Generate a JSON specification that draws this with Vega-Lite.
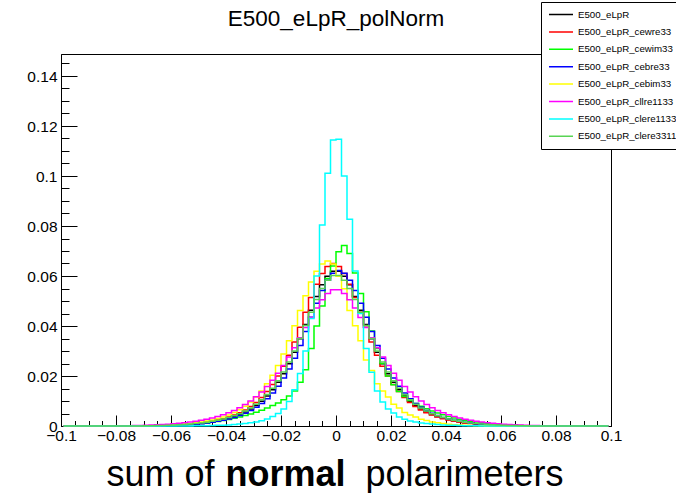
{
  "$schema": "https://vega.github.io/schema/vega-lite/v6.json",
  "width": 550,
  "height": 372,
  "autosize": {"type": "none"},
  "padding": {"left": 61, "top": 54, "right": 65, "bottom": 67},
  "background": "white",
  "title": {
    "text": "E500_eLpR_polNorm",
    "font": "Liberation Sans",
    "fontSize": 22.5,
    "fontWeight": "normal",
    "color": "black",
    "anchor": "middle",
    "frame": "group",
    "baseline": "alphabetic",
    "offset": 0,
    "dy": 47
  },
  "config": {
    "view": {"stroke": "black", "strokeWidth": 1},
    "font": "Liberation Sans"
  },
  "data": {
    "values": [
      {"x": -0.099, "eLpR": 0, "cewre33": 0, "cewim33": 0, "cebre33": 0, "cebim33": 0, "cllre1133": 0, "clere1133": 0, "clere3311": 0},
      {"x": -0.097, "eLpR": 0, "cewre33": 0, "cewim33": 0, "cebre33": 0, "cebim33": 0, "cllre1133": 0, "clere1133": 0, "clere3311": 0},
      {"x": -0.095, "eLpR": 0, "cewre33": 0, "cewim33": 0, "cebre33": 0, "cebim33": 0, "cllre1133": 0, "clere1133": 0, "clere3311": 0},
      {"x": -0.093, "eLpR": 0, "cewre33": 0, "cewim33": 0, "cebre33": 0, "cebim33": 0, "cllre1133": 0, "clere1133": 0, "clere3311": 0},
      {"x": -0.091, "eLpR": 0, "cewre33": 0, "cewim33": 0, "cebre33": 0, "cebim33": 0, "cllre1133": 0, "clere1133": 0, "clere3311": 0},
      {"x": -0.089, "eLpR": 0, "cewre33": 0, "cewim33": 0, "cebre33": 0, "cebim33": 0, "cllre1133": 0, "clere1133": 0, "clere3311": 0},
      {"x": -0.087, "eLpR": 0, "cewre33": 0, "cewim33": 0, "cebre33": 0, "cebim33": 0, "cllre1133": 0, "clere1133": 0, "clere3311": 0},
      {"x": -0.085, "eLpR": 0, "cewre33": 0, "cewim33": 0, "cebre33": 0, "cebim33": 0, "cllre1133": 0, "clere1133": 0, "clere3311": 0},
      {"x": -0.083, "eLpR": 0, "cewre33": 0, "cewim33": 0, "cebre33": 0, "cebim33": 0, "cllre1133": 0, "clere1133": 0, "clere3311": 0},
      {"x": -0.081, "eLpR": 0, "cewre33": 0, "cewim33": 0, "cebre33": 0, "cebim33": 0, "cllre1133": 0, "clere1133": 0, "clere3311": 0},
      {"x": -0.079, "eLpR": 0, "cewre33": 0, "cewim33": 0, "cebre33": 0, "cebim33": 0, "cllre1133": 0, "clere1133": 0, "clere3311": 0},
      {"x": -0.077, "eLpR": 0, "cewre33": 0, "cewim33": 0, "cebre33": 0, "cebim33": 0, "cllre1133": 0.0001, "clere1133": 0, "clere3311": 0},
      {"x": -0.075, "eLpR": 0, "cewre33": 0, "cewim33": 0, "cebre33": 0, "cebim33": 0, "cllre1133": 0.00012, "clere1133": 0, "clere3311": 0},
      {"x": -0.073, "eLpR": 0, "cewre33": 0, "cewim33": 0, "cebre33": 0, "cebim33": 0, "cllre1133": 0.00016, "clere1133": 0, "clere3311": 0},
      {"x": -0.071, "eLpR": 0, "cewre33": 0, "cewim33": 0, "cebre33": 0, "cebim33": 0, "cllre1133": 0.00022, "clere1133": 0, "clere3311": 0},
      {"x": -0.069, "eLpR": 0, "cewre33": 0, "cewim33": 0, "cebre33": 0, "cebim33": 0.0001, "cllre1133": 0.0003, "clere1133": 0, "clere3311": 0.0001},
      {"x": -0.067, "eLpR": 0, "cewre33": 0.0001, "cewim33": 0, "cebre33": 0, "cebim33": 0.00015, "cllre1133": 0.0004, "clere1133": 0, "clere3311": 0.00012},
      {"x": -0.065, "eLpR": 0.00012, "cewre33": 0.00014, "cewim33": 0.0001, "cebre33": 0.0001, "cebim33": 0.0002, "cllre1133": 0.0005, "clere1133": 0, "clere3311": 0.00017},
      {"x": -0.063, "eLpR": 0.00016, "cewre33": 0.0002, "cewim33": 0.00012, "cebre33": 0.00014, "cebim33": 0.00027, "cllre1133": 0.0006, "clere1133": 0, "clere3311": 0.00023},
      {"x": -0.061, "eLpR": 0.0002, "cewre33": 0.00027, "cewim33": 0.00018, "cebre33": 0.00019, "cebim33": 0.00036, "cllre1133": 0.0007, "clere1133": 0, "clere3311": 0.0003},
      {"x": -0.059, "eLpR": 0.0003, "cewre33": 0.00035, "cewim33": 0.00025, "cebre33": 0.00026, "cebim33": 0.00047, "cllre1133": 0.0009, "clere1133": 0, "clere3311": 0.0004},
      {"x": -0.057, "eLpR": 0.0004, "cewre33": 0.00046, "cewim33": 0.00035, "cebre33": 0.00034, "cebim33": 0.0006, "cllre1133": 0.0011, "clere1133": 0, "clere3311": 0.0005},
      {"x": -0.055, "eLpR": 0.0005, "cewre33": 0.0006, "cewim33": 0.00045, "cebre33": 0.00044, "cebim33": 0.0008, "cllre1133": 0.0013, "clere1133": 0, "clere3311": 0.00065},
      {"x": -0.053, "eLpR": 0.00065, "cewre33": 0.0008, "cewim33": 0.0006, "cebre33": 0.0006, "cebim33": 0.001, "cllre1133": 0.0016, "clere1133": 0, "clere3311": 0.0008},
      {"x": -0.051, "eLpR": 0.0008, "cewre33": 0.001, "cewim33": 0.0008, "cebre33": 0.0007, "cebim33": 0.0013, "cllre1133": 0.0019, "clere1133": 0.0001, "clere3311": 0.001},
      {"x": -0.049, "eLpR": 0.0011, "cewre33": 0.0012, "cewim33": 0.001, "cebre33": 0.0009, "cebim33": 0.0016, "cllre1133": 0.0023, "clere1133": 0.0001, "clere3311": 0.0012},
      {"x": -0.047, "eLpR": 0.0013, "cewre33": 0.0016, "cewim33": 0.0012, "cebre33": 0.0012, "cebim33": 0.002, "cllre1133": 0.0027, "clere1133": 0.00015, "clere3311": 0.0015},
      {"x": -0.045, "eLpR": 0.0017, "cewre33": 0.002, "cewim33": 0.0015, "cebre33": 0.0015, "cebim33": 0.0024, "cllre1133": 0.0032, "clere1133": 0.0002, "clere3311": 0.0019},
      {"x": -0.043, "eLpR": 0.0021, "cewre33": 0.0024, "cewim33": 0.0018, "cebre33": 0.0019, "cebim33": 0.003, "cllre1133": 0.0038, "clere1133": 0.00027, "clere3311": 0.0023},
      {"x": -0.041, "eLpR": 0.0026, "cewre33": 0.0029, "cewim33": 0.0022, "cebre33": 0.0023, "cebim33": 0.0036, "cllre1133": 0.0045, "clere1133": 0.00035, "clere3311": 0.0028},
      {"x": -0.039, "eLpR": 0.0031, "cewre33": 0.0036, "cewim33": 0.0026, "cebre33": 0.0028, "cebim33": 0.0044, "cllre1133": 0.0053, "clere1133": 0.00045, "clere3311": 0.0034},
      {"x": -0.037, "eLpR": 0.0038, "cewre33": 0.0044, "cewim33": 0.0031, "cebre33": 0.0034, "cebim33": 0.0054, "cllre1133": 0.0062, "clere1133": 0.0006, "clere3311": 0.0041},
      {"x": -0.035, "eLpR": 0.0046, "cewre33": 0.0053, "cewim33": 0.0036, "cebre33": 0.0042, "cebim33": 0.0065, "cllre1133": 0.0073, "clere1133": 0.0008, "clere3311": 0.0049},
      {"x": -0.033, "eLpR": 0.0056, "cewre33": 0.0064, "cewim33": 0.0042, "cebre33": 0.0051, "cebim33": 0.0079, "cllre1133": 0.0086, "clere1133": 0.001, "clere3311": 0.006},
      {"x": -0.031, "eLpR": 0.0068, "cewre33": 0.0078, "cewim33": 0.0048, "cebre33": 0.0062, "cebim33": 0.0096, "cllre1133": 0.01, "clere1133": 0.0013, "clere3311": 0.0072},
      {"x": -0.029, "eLpR": 0.0082, "cewre33": 0.0094, "cewim33": 0.0055, "cebre33": 0.0075, "cebim33": 0.0116, "cllre1133": 0.0117, "clere1133": 0.0016, "clere3311": 0.0087},
      {"x": -0.027, "eLpR": 0.0099, "cewre33": 0.0114, "cewim33": 0.0063, "cebre33": 0.009, "cebim33": 0.014, "cllre1133": 0.0136, "clere1133": 0.0021, "clere3311": 0.0105},
      {"x": -0.025, "eLpR": 0.012, "cewre33": 0.0138, "cewim33": 0.0072, "cebre33": 0.0109, "cebim33": 0.0169, "cllre1133": 0.0158, "clere1133": 0.0028, "clere3311": 0.0126},
      {"x": -0.023, "eLpR": 0.0145, "cewre33": 0.0166, "cewim33": 0.0082, "cebre33": 0.0132, "cebim33": 0.0203, "cllre1133": 0.0183, "clere1133": 0.0038, "clere3311": 0.0151},
      {"x": -0.021, "eLpR": 0.0175, "cewre33": 0.02, "cewim33": 0.0092, "cebre33": 0.0159, "cebim33": 0.0242, "cllre1133": 0.0211, "clere1133": 0.005, "clere3311": 0.0181},
      {"x": -0.019, "eLpR": 0.0209, "cewre33": 0.0239, "cewim33": 0.0105, "cebre33": 0.0192, "cebim33": 0.0288, "cllre1133": 0.0242, "clere1133": 0.0068, "clere3311": 0.0216},
      {"x": -0.017, "eLpR": 0.0249, "cewre33": 0.0283, "cewim33": 0.012, "cebre33": 0.0228, "cebim33": 0.0341, "cllre1133": 0.0276, "clere1133": 0.0098, "clere3311": 0.0256},
      {"x": -0.015, "eLpR": 0.0295, "cewre33": 0.0336, "cewim33": 0.014, "cebre33": 0.0271, "cebim33": 0.0401, "cllre1133": 0.0313, "clere1133": 0.0145, "clere3311": 0.03},
      {"x": -0.013, "eLpR": 0.0349, "cewre33": 0.0395, "cewim33": 0.0175, "cebre33": 0.0322, "cebim33": 0.0462, "cllre1133": 0.0353, "clere1133": 0.021, "clere3311": 0.035},
      {"x": -0.011, "eLpR": 0.0406, "cewre33": 0.0455, "cewim33": 0.0225, "cebre33": 0.0378, "cebim33": 0.0521, "cllre1133": 0.0394, "clere1133": 0.03, "clere3311": 0.0402},
      {"x": -0.009, "eLpR": 0.0463, "cewre33": 0.0514, "cewim33": 0.031, "cebre33": 0.0435, "cebim33": 0.0576, "cllre1133": 0.0434, "clere1133": 0.043, "clere3311": 0.0455},
      {"x": -0.007, "eLpR": 0.0518, "cewre33": 0.0567, "cewim33": 0.04, "cebre33": 0.0491, "cebim33": 0.0619, "cllre1133": 0.0472, "clere1133": 0.06, "clere3311": 0.0506},
      {"x": -0.005, "eLpR": 0.0565, "cewre33": 0.061, "cewim33": 0.048, "cebre33": 0.0542, "cebim33": 0.0648, "cllre1133": 0.0505, "clere1133": 0.0804, "clere3311": 0.055},
      {"x": -0.003, "eLpR": 0.0599, "cewre33": 0.0638, "cewim33": 0.059, "cebre33": 0.0583, "cebim33": 0.066, "cllre1133": 0.053, "clere1133": 0.1011, "clere3311": 0.0583},
      {"x": -0.001, "eLpR": 0.0619, "cewre33": 0.065, "cewim33": 0.064, "cebre33": 0.0611, "cebim33": 0.0648, "cllre1133": 0.0545, "clere1133": 0.1144, "clere3311": 0.0602},
      {"x": 0.001, "eLpR": 0.0619, "cewre33": 0.0638, "cewim33": 0.0697, "cebre33": 0.0622, "cebim33": 0.0599, "cllre1133": 0.0545, "clere1133": 0.1147, "clere3311": 0.0602},
      {"x": 0.003, "eLpR": 0.0599, "cewre33": 0.061, "cewim33": 0.0722, "cebre33": 0.0611, "cebim33": 0.0549, "cllre1133": 0.053, "clere1133": 0.1, "clere3311": 0.0583},
      {"x": 0.005, "eLpR": 0.0565, "cewre33": 0.0567, "cewim33": 0.069, "cebre33": 0.0583, "cebim33": 0.0462, "cllre1133": 0.0505, "clere1133": 0.0827, "clere3311": 0.055},
      {"x": 0.007, "eLpR": 0.0518, "cewre33": 0.0514, "cewim33": 0.0612, "cebre33": 0.0542, "cebim33": 0.0401, "cllre1133": 0.0472, "clere1133": 0.062, "clere3311": 0.0506},
      {"x": 0.009, "eLpR": 0.0463, "cewre33": 0.0455, "cewim33": 0.053, "cebre33": 0.0491, "cebim33": 0.0341, "cllre1133": 0.0434, "clere1133": 0.045, "clere3311": 0.0455},
      {"x": 0.011, "eLpR": 0.0406, "cewre33": 0.0395, "cewim33": 0.0457, "cebre33": 0.0435, "cebim33": 0.0264, "cllre1133": 0.0394, "clere1133": 0.031, "clere3311": 0.0402},
      {"x": 0.013, "eLpR": 0.0349, "cewre33": 0.0336, "cewim33": 0.038, "cebre33": 0.0378, "cebim33": 0.0222, "cllre1133": 0.0353, "clere1133": 0.0215, "clere3311": 0.035},
      {"x": 0.015, "eLpR": 0.0295, "cewre33": 0.0283, "cewim33": 0.031, "cebre33": 0.0322, "cebim33": 0.0169, "cllre1133": 0.0313, "clere1133": 0.014, "clere3311": 0.03},
      {"x": 0.017, "eLpR": 0.0249, "cewre33": 0.0239, "cewim33": 0.025, "cebre33": 0.0271, "cebim33": 0.014, "cllre1133": 0.0276, "clere1133": 0.0096, "clere3311": 0.0256},
      {"x": 0.019, "eLpR": 0.0209, "cewre33": 0.02, "cewim33": 0.02, "cebre33": 0.0228, "cebim33": 0.0116, "cllre1133": 0.0242, "clere1133": 0.0068, "clere3311": 0.0216},
      {"x": 0.021, "eLpR": 0.0175, "cewre33": 0.0166, "cewim33": 0.0165, "cebre33": 0.0192, "cebim33": 0.0087, "cllre1133": 0.0211, "clere1133": 0.0052, "clere3311": 0.0181},
      {"x": 0.023, "eLpR": 0.0145, "cewre33": 0.0138, "cewim33": 0.0138, "cebre33": 0.0159, "cebim33": 0.0072, "cllre1133": 0.0183, "clere1133": 0.0036, "clere3311": 0.0151},
      {"x": 0.025, "eLpR": 0.012, "cewre33": 0.0114, "cewim33": 0.0118, "cebre33": 0.0132, "cebim33": 0.0054, "cllre1133": 0.0158, "clere1133": 0.0027, "clere3311": 0.0126},
      {"x": 0.027, "eLpR": 0.0099, "cewre33": 0.0094, "cewim33": 0.0102, "cebre33": 0.0109, "cebim33": 0.0044, "cllre1133": 0.0136, "clere1133": 0.002, "clere3311": 0.0105},
      {"x": 0.029, "eLpR": 0.0082, "cewre33": 0.0078, "cewim33": 0.009, "cebre33": 0.009, "cebim33": 0.0036, "cllre1133": 0.0117, "clere1133": 0.0016, "clere3311": 0.0087},
      {"x": 0.031, "eLpR": 0.0068, "cewre33": 0.0064, "cewim33": 0.0079, "cebre33": 0.0075, "cebim33": 0.0027, "cllre1133": 0.01, "clere1133": 0.0012, "clere3311": 0.0072},
      {"x": 0.033, "eLpR": 0.0056, "cewre33": 0.0053, "cewim33": 0.0069, "cebre33": 0.0062, "cebim33": 0.0022, "cllre1133": 0.0086, "clere1133": 0.001, "clere3311": 0.006},
      {"x": 0.035, "eLpR": 0.0046, "cewre33": 0.0044, "cewim33": 0.006, "cebre33": 0.0051, "cebim33": 0.0016, "cllre1133": 0.0073, "clere1133": 0.0008, "clere3311": 0.0049},
      {"x": 0.037, "eLpR": 0.0038, "cewre33": 0.0036, "cewim33": 0.0052, "cebre33": 0.0042, "cebim33": 0.0013, "cllre1133": 0.0062, "clere1133": 0.0006, "clere3311": 0.0041},
      {"x": 0.039, "eLpR": 0.0031, "cewre33": 0.0029, "cewim33": 0.0045, "cebre33": 0.0034, "cebim33": 0.001, "cllre1133": 0.0053, "clere1133": 0.00045, "clere3311": 0.0034},
      {"x": 0.041, "eLpR": 0.0026, "cewre33": 0.0024, "cewim33": 0.0038, "cebre33": 0.0028, "cebim33": 0.0007, "cllre1133": 0.0045, "clere1133": 0.00035, "clere3311": 0.0028},
      {"x": 0.043, "eLpR": 0.0021, "cewre33": 0.002, "cewim33": 0.0032, "cebre33": 0.0023, "cebim33": 0.0005, "cllre1133": 0.0038, "clere1133": 0.00027, "clere3311": 0.0023},
      {"x": 0.045, "eLpR": 0.0017, "cewre33": 0.0016, "cewim33": 0.0027, "cebre33": 0.0019, "cebim33": 0.00036, "cllre1133": 0.0032, "clere1133": 0.0002, "clere3311": 0.0019},
      {"x": 0.047, "eLpR": 0.0013, "cewre33": 0.0012, "cewim33": 0.0023, "cebre33": 0.0015, "cebim33": 0.00027, "cllre1133": 0.0027, "clere1133": 0.00015, "clere3311": 0.0015},
      {"x": 0.049, "eLpR": 0.0011, "cewre33": 0.001, "cewim33": 0.0019, "cebre33": 0.0012, "cebim33": 0.0002, "cllre1133": 0.0023, "clere1133": 0.0001, "clere3311": 0.0012},
      {"x": 0.051, "eLpR": 0.0008, "cewre33": 0.0008, "cewim33": 0.0016, "cebre33": 0.0009, "cebim33": 0.00014, "cllre1133": 0.0019, "clere1133": 0.0001, "clere3311": 0.001},
      {"x": 0.053, "eLpR": 0.00065, "cewre33": 0.0006, "cewim33": 0.0013, "cebre33": 0.0007, "cebim33": 0.0001, "cllre1133": 0.0016, "clere1133": 0, "clere3311": 0.0008},
      {"x": 0.055, "eLpR": 0.0005, "cewre33": 0.00046, "cewim33": 0.001, "cebre33": 0.0006, "cebim33": 0, "cllre1133": 0.0013, "clere1133": 0, "clere3311": 0.00065},
      {"x": 0.057, "eLpR": 0.0004, "cewre33": 0.00035, "cewim33": 0.0008, "cebre33": 0.00044, "cebim33": 0, "cllre1133": 0.0011, "clere1133": 0, "clere3311": 0.0005},
      {"x": 0.059, "eLpR": 0.0003, "cewre33": 0.00027, "cewim33": 0.0006, "cebre33": 0.00034, "cebim33": 0, "cllre1133": 0.0009, "clere1133": 0, "clere3311": 0.0004},
      {"x": 0.061, "eLpR": 0.0002, "cewre33": 0.0002, "cewim33": 0.00045, "cebre33": 0.00026, "cebim33": 0, "cllre1133": 0.0007, "clere1133": 0, "clere3311": 0.0003},
      {"x": 0.063, "eLpR": 0.00016, "cewre33": 0.00014, "cewim33": 0.00035, "cebre33": 0.00019, "cebim33": 0, "cllre1133": 0.0006, "clere1133": 0, "clere3311": 0.00023},
      {"x": 0.065, "eLpR": 0.00012, "cewre33": 0.0001, "cewim33": 0.00025, "cebre33": 0.00014, "cebim33": 0, "cllre1133": 0.0005, "clere1133": 0, "clere3311": 0.00017},
      {"x": 0.067, "eLpR": 0, "cewre33": 0, "cewim33": 0.00018, "cebre33": 0.0001, "cebim33": 0, "cllre1133": 0.0004, "clere1133": 0, "clere3311": 0.00012},
      {"x": 0.069, "eLpR": 0, "cewre33": 0, "cewim33": 0.00012, "cebre33": 0, "cebim33": 0, "cllre1133": 0.0003, "clere1133": 0, "clere3311": 0.0001},
      {"x": 0.071, "eLpR": 0, "cewre33": 0, "cewim33": 0.0001, "cebre33": 0, "cebim33": 0, "cllre1133": 0.00022, "clere1133": 0, "clere3311": 0},
      {"x": 0.073, "eLpR": 0, "cewre33": 0, "cewim33": 0, "cebre33": 0, "cebim33": 0, "cllre1133": 0.00016, "clere1133": 0, "clere3311": 0},
      {"x": 0.075, "eLpR": 0, "cewre33": 0, "cewim33": 0, "cebre33": 0, "cebim33": 0, "cllre1133": 0.00012, "clere1133": 0, "clere3311": 0},
      {"x": 0.077, "eLpR": 0, "cewre33": 0, "cewim33": 0, "cebre33": 0, "cebim33": 0, "cllre1133": 0.0001, "clere1133": 0, "clere3311": 0},
      {"x": 0.079, "eLpR": 0, "cewre33": 0, "cewim33": 0, "cebre33": 0, "cebim33": 0, "cllre1133": 0, "clere1133": 0, "clere3311": 0},
      {"x": 0.081, "eLpR": 0, "cewre33": 0, "cewim33": 0, "cebre33": 0, "cebim33": 0, "cllre1133": 0, "clere1133": 0, "clere3311": 0},
      {"x": 0.083, "eLpR": 0, "cewre33": 0, "cewim33": 0, "cebre33": 0, "cebim33": 0, "cllre1133": 0, "clere1133": 0, "clere3311": 0},
      {"x": 0.085, "eLpR": 0, "cewre33": 0, "cewim33": 0, "cebre33": 0, "cebim33": 0, "cllre1133": 0, "clere1133": 0, "clere3311": 0},
      {"x": 0.087, "eLpR": 0, "cewre33": 0, "cewim33": 0, "cebre33": 0, "cebim33": 0, "cllre1133": 0, "clere1133": 0, "clere3311": 0},
      {"x": 0.089, "eLpR": 0, "cewre33": 0, "cewim33": 0, "cebre33": 0, "cebim33": 0, "cllre1133": 0, "clere1133": 0, "clere3311": 0},
      {"x": 0.091, "eLpR": 0, "cewre33": 0, "cewim33": 0, "cebre33": 0, "cebim33": 0, "cllre1133": 0, "clere1133": 0, "clere3311": 0},
      {"x": 0.093, "eLpR": 0, "cewre33": 0, "cewim33": 0, "cebre33": 0, "cebim33": 0, "cllre1133": 0, "clere1133": 0, "clere3311": 0},
      {"x": 0.095, "eLpR": 0, "cewre33": 0, "cewim33": 0, "cebre33": 0, "cebim33": 0, "cllre1133": 0, "clere1133": 0, "clere3311": 0},
      {"x": 0.097, "eLpR": 0, "cewre33": 0, "cewim33": 0, "cebre33": 0, "cebim33": 0, "cllre1133": 0, "clere1133": 0, "clere3311": 0},
      {"x": 0.099, "eLpR": 0, "cewre33": 0, "cewim33": 0, "cebre33": 0, "cebim33": 0, "cllre1133": 0, "clere1133": 0, "clere3311": 0}
    ]
  },
  "transform": [
    {"fold": ["eLpR", "cewre33", "cewim33", "cebre33", "cebim33", "cllre1133", "clere1133", "clere3311"], "as": ["key", "y"]}
  ],
  "encoding": {
    "y": {
      "field": "y",
      "type": "quantitative",
      "scale": {"domain": [0, 0.1488], "nice": false, "zero": true},
      "axis": {
        "orient": "left",
        "title": null,
        "grid": false,
        "values": [0, 0.005, 0.01, 0.015, 0.02, 0.025, 0.03, 0.035, 0.04, 0.045, 0.05, 0.055, 0.06, 0.065, 0.07, 0.075, 0.08, 0.085, 0.09, 0.095, 0.1, 0.105, 0.11, 0.115, 0.12, 0.125, 0.13, 0.135, 0.14, 0.145],
        "format": "~g",
        "labelExpr": "abs(datum.value * 50 - round(datum.value * 50)) < 0.01 ? datum.label : ''",
        "tickSize": {"condition": {"test": "abs(datum.value * 50 - round(datum.value * 50)) < 0.01", "value": -16}, "value": -8},
        "labelPadding": 20,
        "labelFont": "Liberation Sans",
        "labelFontSize": 15.5,
        "labelColor": "black",
        "labelOverlap": false,
        "labelFlush": false,
        "domainColor": "black",
        "tickColor": "black",
        "tickWidth": 1
      }
    },
    "color": {
      "field": "key",
      "type": "nominal",
      "scale": {
        "domain": ["eLpR", "cewre33", "cewim33", "cebre33", "cebim33", "cllre1133", "clere1133", "clere3311"],
        "range": ["#000000", "#ff0000", "#00ff00", "#0000ff", "#ffff00", "#ff00ff", "#00ffff", "#59d454"]
      },
      "legend": {
        "orient": "none",
        "legendX": 480,
        "legendY": -52,
        "title": null,
        "symbolType": "stroke",
        "symbolSize": 576,
        "symbolStrokeWidth": 1.5,
        "clipHeight": 15,
        "rowPadding": 2.4,
        "padding": 5,
        "symbolOffset": 2,
        "labelOffset": 4,
        "labelFont": "Liberation Sans",
        "labelFontSize": 9.7,
        "labelColor": "black",
        "labelLimit": 200,
        "strokeColor": "black",
        "fillColor": "white",
        "cornerRadius": 0,
        "labelExpr": "datum.label == 'eLpR' ? 'E500_eLpR' : 'E500_eLpR_' + datum.label"
      }
    }
  },
  "layer": [
    {
      "transform": [{"filter": {"field": "key", "oneOf": ["eLpR", "cewre33", "cewim33"]}}],
      "mark": {"type": "line", "interpolate": "step", "strokeWidth": 1.5},
      "encoding": {
        "x": {
          "field": "x",
          "type": "quantitative",
          "scale": {"domain": [-0.1, 0.1], "nice": false, "zero": false},
          "axis": {
            "orient": "bottom",
            "grid": false,
            "values": [-0.1, -0.095, -0.09, -0.085, -0.08, -0.075, -0.07, -0.065, -0.06, -0.055, -0.05, -0.045, -0.04, -0.035, -0.03, -0.025, -0.02, -0.015, -0.01, -0.005, 0, 0.005, 0.01, 0.015, 0.02, 0.025, 0.03, 0.035, 0.04, 0.045, 0.05, 0.055, 0.06, 0.065, 0.07, 0.075, 0.08, 0.085, 0.09, 0.095, 0.1],
            "format": "~g",
            "labelExpr": "abs(datum.value * 50 - round(datum.value * 50)) < 0.01 ? datum.label : ''",
            "tickSize": {"condition": {"test": "abs(datum.value * 50 - round(datum.value * 50)) < 0.01", "value": -11}, "value": -5.5},
            "labelPadding": 13,
            "labelFont": "Liberation Sans",
            "labelFontSize": 15.5,
            "labelColor": "black",
            "labelOverlap": false,
            "labelFlush": false,
            "domainColor": "black",
            "tickColor": "black",
            "tickWidth": 1,
            "title": "sum of",
            "titleX": 45,
            "titleY": 59,
            "titleAlign": "left",
            "titleBaseline": "alphabetic",
            "titleFont": "Liberation Sans",
            "titleFontSize": 36,
            "titleFontWeight": "normal",
            "titleColor": "black"
          }
        }
      }
    },
    {
      "transform": [{"filter": {"field": "key", "oneOf": ["cebre33", "cebim33", "cllre1133"]}}],
      "mark": {"type": "line", "interpolate": "step", "strokeWidth": 1.5},
      "encoding": {
        "x": {
          "field": "x",
          "type": "quantitative",
          "scale": {"domain": [-0.1, 0.1], "nice": false, "zero": false},
          "axis": {
            "orient": "bottom",
            "grid": false,
            "domain": false,
            "ticks": false,
            "labels": false,
            "title": "normal",
            "titleX": 164,
            "titleY": 59,
            "titleAlign": "left",
            "titleBaseline": "alphabetic",
            "titleFont": "Liberation Sans",
            "titleFontSize": 36,
            "titleFontWeight": "bold",
            "titleColor": "black"
          }
        }
      }
    },
    {
      "transform": [{"filter": {"field": "key", "oneOf": ["clere1133", "clere3311"]}}],
      "mark": {"type": "line", "interpolate": "step", "strokeWidth": 1.5},
      "encoding": {
        "x": {
          "field": "x",
          "type": "quantitative",
          "scale": {"domain": [-0.1, 0.1], "nice": false, "zero": false},
          "axis": {
            "orient": "bottom",
            "grid": false,
            "domain": false,
            "ticks": false,
            "labels": false,
            "title": "polarimeters",
            "titleX": 304,
            "titleY": 59,
            "titleAlign": "left",
            "titleBaseline": "alphabetic",
            "titleFont": "Liberation Sans",
            "titleFontSize": 36,
            "titleFontWeight": "normal",
            "titleColor": "black"
          }
        }
      }
    }
  ],
  "resolve": {"axis": {"x": "independent"}}
}
